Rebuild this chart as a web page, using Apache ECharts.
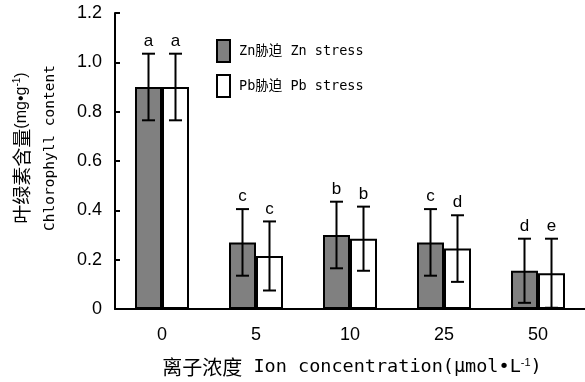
<!DOCTYPE html>
<html><head><meta charset="utf-8">
<script src="https://cdn.jsdelivr.net/npm/echarts@6/dist/echarts.min.js"></script>
<style>html,body{margin:0;padding:0;background:#fff}#c{width:585px;height:382px}</style>
</head><body><div id="c"></div>
<script>
const categories = ['0', '5', '10', '25', '50'];
const znValues = [0.90, 0.27, 0.30, 0.27, 0.155];
const znErrors = [0.135, 0.135, 0.135, 0.135, 0.13];
const znLetters = ['a', 'c', 'b', 'c', 'd'];
const pbValues = [0.90, 0.215, 0.285, 0.245, 0.145];
const pbErrors = [0.135, 0.14, 0.13, 0.135, 0.14];
const pbLetters = ['a', 'c', 'b', 'd', 'e'];
const yTicks = [0, 0.2, 0.4, 0.6, 0.8, 1.0, 1.2];
const znName = 'Zn胁迫 Zn stress';
const pbName = 'Pb胁迫 Pb stress';

const BAR_W = 27;
const mono = '"DejaVu Sans Mono", "Noto Sans CJK SC", monospace';
const sans = '"Liberation Sans", Arial, "Noto Sans CJK SC", sans-serif';

function errSeries(values, errors, letters, offset) {
  return {
    type: 'custom',
    silent: true,
    z: 5,
    data: values.map((v, i) => [i, v, errors[i], letters[i]]),
    renderItem: function (params, api) {
      const i = api.value(0), v = api.value(1), e = api.value(2);
      const c = api.coord([i, v]);
      const top = api.coord([i, v + e]);
      const bot = api.coord([i, Math.max(0, v - e)]);
      const x = c[0] + offset;
      const cap = 6.5;
      const st = { stroke: '#000', lineWidth: 2 };
      return {
        type: 'group',
        children: [
          { type: 'line', shape: { x1: x, y1: top[1], x2: x, y2: bot[1] }, style: st },
          { type: 'line', shape: { x1: x - cap, y1: top[1], x2: x + cap, y2: top[1] }, style: st },
          { type: 'line', shape: { x1: x - cap, y1: bot[1], x2: x + cap, y2: bot[1] }, style: st },
          { type: 'text', style: { text: letters[i], x: x, y: top[1] - 4, align: 'center', verticalAlign: 'bottom', fontSize: 17, fontFamily: sans, fill: '#000' } }
        ]
      };
    }
  };
}

const chart = echarts.init(document.getElementById('c'));
chart.setOption({
  animation: false,
  backgroundColor: '#fff',
  grid: { left: 115, right: 0, top: 13, bottom: 73 },
  legend: {
    orient: 'vertical', left: 216, top: 39, itemGap: 11, padding: 0,
    itemWidth: 13, itemHeight: 22, icon: 'rect',
    data: [znName, pbName],
    textStyle: { fontFamily: mono, fontSize: 13.5, color: '#000', padding: [0, 0, 0, 4] }
  },
  xAxis: {
    type: 'category', data: categories,
    axisLine: { lineStyle: { color: '#000', width: 2 } },
    axisTick: { inside: true, length: 10, lineStyle: { color: '#000', width: 2 } },
    axisLabel: { color: '#000', fontSize: 18, fontFamily: sans, margin: 17 }
  },
  yAxis: {
    type: 'value', min: 0, max: 1.2, interval: 0.2,
    axisLine: { show: true, lineStyle: { color: '#000', width: 2 } },
    axisTick: { show: true, inside: true, length: 5, lineStyle: { color: '#000', width: 2 } },
    splitLine: { show: false },
    axisLabel: {
      color: '#000', fontSize: 18, fontFamily: sans, margin: 13,
      customValues: yTicks,
      formatter: v => (Math.abs(v) < 1e-9 ? '0' : v.toFixed(1))
    }
  },
  graphic: [
    {
      type: 'text', x: 22, y: 148, rotation: Math.PI / 2,
      style: {
        text: '{a|叶绿素含量}{b|(mg•g}{s|-1}{b|)}',
        align: 'center', verticalAlign: 'middle',
        rich: {
          a: { fontSize: 19, fontFamily: '"Noto Sans CJK SC"', fill: '#000' },
          b: { fontSize: 16, fontFamily: sans, fill: '#000' },
          s: { fontSize: 10, fontFamily: sans, fill: '#000', verticalAlign: 'top' }
        }
      }
    },
    {
      type: 'text', x: 50, y: 148, rotation: Math.PI / 2,
      style: { text: 'Chlorophyll content', align: 'center', verticalAlign: 'middle', fontSize: 14.5, fontFamily: mono, fill: '#000' }
    },
    {
      type: 'text', x: 352, y: 367,
      style: {
        text: '{a|离子浓度}{b| Ion concentration(μmol•L}{s|-1}{b|)}',
        align: 'center', verticalAlign: 'middle',
        rich: {
          a: { fontSize: 20, fontFamily: '"Noto Sans CJK SC"', fill: '#000' },
          b: { fontSize: 18.5, fontFamily: mono, fill: '#000' },
          s: { fontSize: 11, fontFamily: sans, fill: '#000', verticalAlign: 'top' }
        }
      }
    }
  ],
  series: [
    { name: znName, type: 'bar', data: znValues, barWidth: BAR_W, barGap: '0%',
      itemStyle: { color: '#808080', borderColor: '#000', borderWidth: 2 } },
    { name: pbName, type: 'bar', data: pbValues, barWidth: BAR_W, barGap: '0%',
      itemStyle: { color: '#fff', borderColor: '#000', borderWidth: 2 } },
    errSeries(znValues, znErrors, znLetters, -BAR_W / 2),
    errSeries(pbValues, pbErrors, pbLetters, BAR_W / 2)
  ]
});
</script></body></html>
